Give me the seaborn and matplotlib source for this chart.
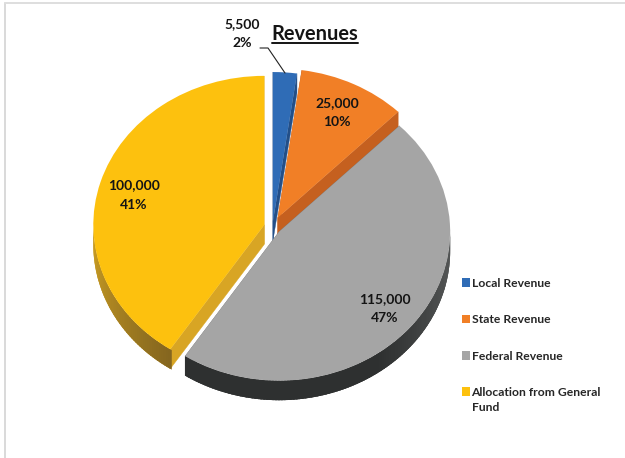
import numpy as np
import matplotlib
matplotlib.use("Agg")
import matplotlib.pyplot as plt
from matplotlib.colors import to_rgb
from matplotlib.lines import Line2D
from matplotlib.patches import Polygon
import seaborn as sns

categories = ["Local Revenue", "State Revenue", "Federal Revenue", "Allocation from General\nFund"]
values = [5500, 25000, 115000, 100000]
top_colors = ["#2f6cb6", "#f17f26", "#a5a5a5", "#fdc10e"]
cut_colors = ["#234f88", "#c5601f", "#7c7c7c", "#d8a524"]
arc_left = ["#234f88", "#b9551c", "#2e3030", "#d0a223"]
arc_right = ["#234f88", "#b9551c", "#5f6161", "#85661f"]
explode = [0.04, 0.07, 0.05, 0.05]

W, H = 625, 458
CX, CY, RX, RY = 272.5, 227, 171, 149
DEPTH = 19.5 / RY

sns.set_theme(style="white")
plt.rcParams["font.family"] = ["Lato", "DejaVu Sans"]
ink = "#141414"

fig = plt.figure(figsize=(W / 100, H / 100), dpi=100, facecolor="white")
ax = fig.add_axes([0, 0, 1, 1])


def px(x, y):
    return (x - CX) / RX, (CY - y) / RY


wedges, _ = ax.pie(values, explode=explode, colors=sns.color_palette(top_colors),
                   startangle=90, counterclock=False, radius=1, center=(0, 0),
                   normalize=True, wedgeprops={"linewidth": 0})


def arc_point(w, deg, dy=0.0):
    a = np.deg2rad(deg)
    return w.center[0] + w.r * np.cos(a), w.center[1] + w.r * np.sin(a) - dy


for i_w, (w, cut, left, right) in enumerate(zip(wedges, cut_colors, arc_left, arc_right)):
    # straight cut faces
    for edge in (w.theta1, w.theta2):
        cx0, cy0 = w.center
        p = arc_point(w, edge)
        q = arc_point(w, edge, DEPTH)
        ax.add_patch(Polygon([(cx0, cy0), p, q, (cx0, cy0 - DEPTH)], closed=True,
                             facecolor=cut, edgecolor=cut, lw=0.3, zorder=0.5))
    # outer curved face, only the part turned towards the viewer
    t = np.append(np.arange(w.theta1, w.theta2, 1.0), w.theta2)
    front = t[np.sin(np.deg2rad(t)) <= 0.02]
    if len(front) > 1:
        c0, c1 = np.array(to_rgb(left)), np.array(to_rgb(right))
        outline = [arc_point(w, a) for a in front] + [arc_point(w, a, DEPTH) for a in front[::-1]]
        ax.add_patch(Polygon(outline, closed=True, facecolor=left, edgecolor="none", zorder=0.6))
        for i in range(len(front) - 1):
            frac = (0.5 * (front[i] + front[i + 1]) - front[0]) / (front[-1] - front[0])
            if i_w == 2:  # Federal stays dark until the right-hand end
                frac = max(0.0, frac - 0.55) / 0.45
            col = c0 + (c1 - c0) * frac
            pts = [arc_point(w, front[i]), arc_point(w, front[i + 1] + 0.6),
                   arc_point(w, front[i + 1] + 0.6, DEPTH), arc_point(w, front[i], DEPTH)]
            ax.add_patch(Polygon(pts, closed=True, facecolor=col, edgecolor="none",
                                 lw=0, zorder=0.7))

for w in wedges:
    w.set_zorder(2)

ax.set_aspect("auto")
ax.set_xlim((0 - CX) / RX, (W - CX) / RX)
ax.set_ylim((CY - H) / RY, CY / RY)
ax.axis("off")

total = sum(values)
label_pos = [(242, 33.5), (337, 112.5), (385, 308.5), (134, 195)]
for v, (x, y) in zip(values, label_pos):
    ax.text(*px(x, y), f"{v:,}\n{round(100 * v / total)}%", ha="center", va="center",
            fontsize=10, fontweight="bold", color=ink, linespacing=1.72, zorder=5)

ax.plot(*zip(px(260, 48), px(268, 48), px(285, 73)), color="#222222", lw=0.8, zorder=4)

ax.text(*px(315, 34), "Revenues", ha="center", va="center", fontsize=14.4,
        fontweight="bold", color=ink, zorder=5)
ax.plot(*zip(px(272, 43), px(358, 43)), color=ink, lw=1.4, zorder=5)

first_lines = [c.split("\n")[0] for c in categories]
leg = ax.legend(wedges, first_lines, loc="upper left",
                bbox_transform=ax.transData, bbox_to_anchor=px(457, 273),
                frameon=False, fontsize=8.7, labelcolor="#262626", handlelength=0.7,
                handleheight=0.75, handletextpad=0.1, labelspacing=2.1, borderpad=0.4,
                borderaxespad=0)
for t in leg.get_texts():
    t.set_fontweight("bold")
ax.text(*px(472, 407.5), categories[3].split("\n")[1], ha="left", va="center",
        fontsize=8.7, fontweight="bold", color="#262626")

fig.add_artist(Line2D([5 / W, 5 / W], [0, 1 - 3 / H], color="#d9d9d9", lw=1.4))
fig.add_artist(Line2D([5 / W, 1], [1 - 2.5 / H, 1 - 2.5 / H], color="#dedede", lw=1.4))

fig.savefig("out.png", dpi=100, facecolor="white")
